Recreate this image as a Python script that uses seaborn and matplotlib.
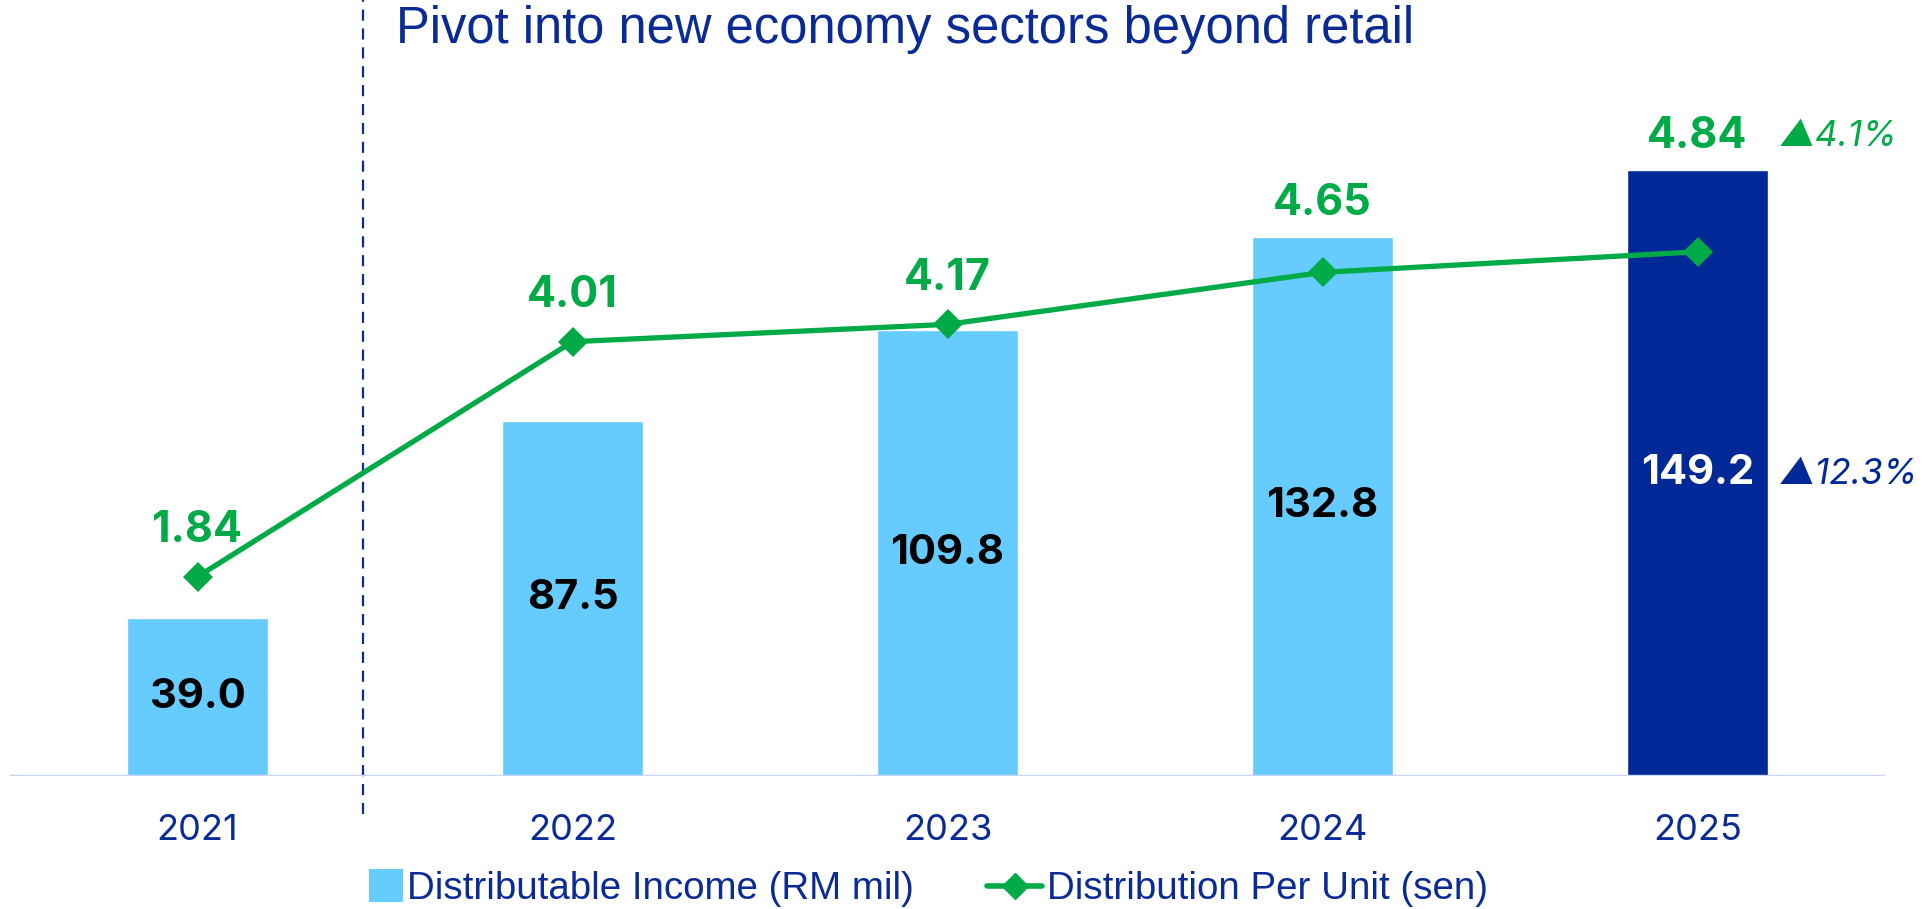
import numpy as np
import pandas as pd
import seaborn as sns
import matplotlib.pyplot as plt
from matplotlib.lines import Line2D
from matplotlib.patches import Patch, Rectangle
from matplotlib.legend_handler import HandlerPatch

# data
years = ['2021', '2022', '2023', '2024', '2025']
income = [39.0, 87.5, 109.8, 132.8, 149.2]
dpu = [1.84, 4.01, 4.17, 4.65, 4.84]
income_growth = '▲12.3%'
dpu_growth = '▲4.1%'
title = 'Pivot into new economy sectors beyond retail'

light_blue = '#66CCFF'
dark_blue = '#002896'
green = '#00AA47'
text_blue = '#0A2A96'

df = pd.DataFrame({'Year': years, 'Income': income, 'DPU': dpu})

sns.set_theme(style='white')
plt.rcParams['font.family'] = ['Inter', 'DejaVu Sans']

fig = plt.figure(figsize=(19.28, 9.09), dpi=100)
ax = fig.add_axes([10 / 1928, 133 / 909, 1875 / 1928, 776 / 909])

bar_colors = [light_blue] * 4 + [dark_blue]
sns.barplot(data=df, x='Year', y='Income', hue='Year', palette=bar_colors,
            legend=False, width=0.376, ax=ax, saturation=1)
ax.set_xlim(-0.5, 4.5)
y1max = 191.1
ax.set_ylim(0, y1max)

ax2 = ax.twinx()
y2max = 7.165
sns.lineplot(x=np.arange(len(years)), y=df['DPU'], ax=ax2, color=green,
             linewidth=3.8, marker='D', markersize=15, markeredgewidth=0)
ax2.set_ylim(0, y2max)

for a in (ax, ax2):
    for s in a.spines.values():
        s.set_visible(False)
    a.set_yticks([])
    a.set_ylabel('')
    a.set_xlabel('')
ax.axhline(0, color='#C9D4F7', lw=2.5, zorder=5)

ax.tick_params(axis='x', length=0, pad=27, labelsize=26, labelcolor=text_blue)

# values inside bars
for i, v in enumerate(income):
    ax.text(i, v / 2, f'{v:.1f}', ha='center', va='center', fontsize=30,
            fontweight='bold', color='white' if i == 4 else 'black')

# DPU labels above the higher of point / bar
ratio = y2max / y1max
for i, (v, d) in enumerate(zip(income, dpu)):
    bar_top = v * ratio
    if bar_top > d:
        ax2.annotate(f'{d:.2f}', (i, bar_top), xytext=(0, 24), textcoords='offset points',
                     ha='center', va='center', fontsize=31, fontweight='bold', color=green)
    else:
        ax2.annotate(f'{d:.2f}', (i, d), xytext=(0, 33), textcoords='offset points',
                     ha='center', va='center', fontsize=31, fontweight='bold', color=green)

# growth annotations
ax2.annotate(dpu_growth, (4, income[4] * ratio), xytext=(59, 24), textcoords='offset points',
             ha='left', va='center', fontsize=25.5, style='italic', color=green)
ax.annotate(income_growth, (4, income[4] / 2), xytext=(59, -1), textcoords='offset points',
            ha='left', va='center', fontsize=25.5, style='italic', color=dark_blue)

# divider
ax.plot([0.44, 0.44], [-0.049, 1.0], transform=ax.get_xaxis_transform(),
        color=text_blue, lw=1.6, ls=(0, (5, 3.5)), clip_on=False)

fig.text(396 / 1928, 1 - 30 / 909, title, ha='left', va='center', fontsize=36.5,
         color=text_blue, family=['Liberation Sans', 'DejaVu Sans'])


def square_patch(legend, orig_handle, xdescent, ydescent, width, height, fontsize):
    side = height * 1.25
    return Rectangle((width - side - xdescent, -ydescent + (height - side) / 2), side, side)


handles = [Patch(facecolor=light_blue, edgecolor='none'),
           Line2D([0], [0], color=green, lw=4, marker='D', markersize=13)]
labels = ['Distributable Income (RM mil)', 'Distribution Per Unit (sen)']
fig.legend(handles, labels, loc='center', bbox_to_anchor=(0.476, 1 - 889 / 909), ncol=2,
           frameon=False, prop={'family': ['Liberation Sans', 'DejaVu Sans'], 'size': 27.7},
           labelcolor=text_blue, handlelength=1.43, handletextpad=0.12, columnspacing=1.9,
           borderpad=0, handler_map={Patch: HandlerPatch(patch_func=square_patch)})

fig.savefig('out.png', dpi=100)
